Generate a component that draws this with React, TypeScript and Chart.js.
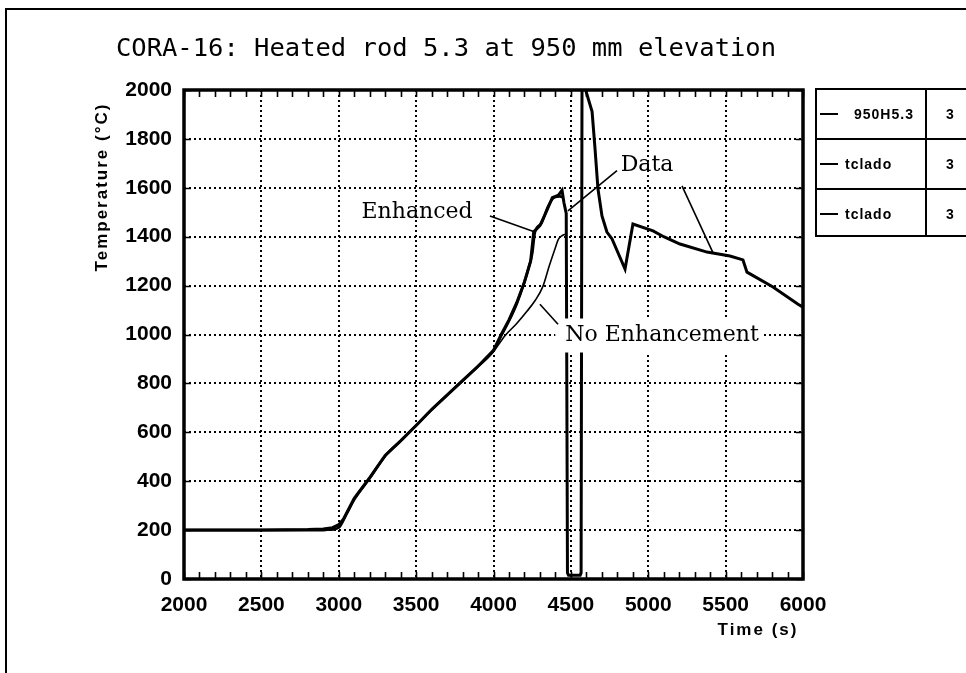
import React, { useEffect, useRef } from "react";
import { Chart, registerables } from "chart.js";

Chart.register(...registerables);

const TITLE = "CORA-16: Heated rod 5.3 at 950 mm elevation";
const X_TITLE = "Time (s)";
const Y_TITLE = "Temperature (°C)";

// Measured cladding temperature, thermocouple 950H5.3
const dataTime = [
  2000, 2500, 2800, 2900, 2960, 3000, 3030, 3100, 3200, 3300, 3400, 3500, 3600, 3700, 3800, 3900,
  4000, 4050, 4100, 4150, 4200, 4240, 4260, 4300, 4340, 4380, 4420, 4443, 4455, 4470, 4478, 4485,
  4560, 4566, 4572, 4592, 4600, 4637, 4656, 4675, 4701, 4733, 4766, 4850, 4901, 5031, 5100, 5205,
  5380, 5528, 5612, 5638, 5806, 5968, 6000,
];
const dataTemp = [
  200, 200, 202, 205, 210, 222, 245, 330, 415, 505, 565, 628, 693, 752, 811, 870,
  935, 1000, 1060, 1130, 1215, 1300, 1420, 1445, 1500, 1560, 1570, 1590, 1540, 1495, 25, 15,
  15, 25, 2050, 2050, 1990, 1912, 1760, 1596, 1485, 1419, 1391, 1268, 1452, 1424, 1400, 1370,
  1337, 1321, 1305, 1255, 1194, 1124, 1112,
];

// Calculated, enhanced oxidation
const enhTime = [
  2000, 2900, 2960, 3000, 3050, 3100, 3200, 3300, 3400, 3500, 3600, 3700, 3800, 3900, 4000, 4050,
  4100, 4150, 4200, 4230, 4250, 4268, 4310, 4350, 4390, 4430, 4450,
];
const enhTemp = [
  200, 200, 205, 210, 265, 325, 412, 503, 565, 628, 693, 752, 811, 870, 935, 995,
  1055, 1125, 1215, 1280, 1330, 1419, 1455, 1520, 1560, 1565, 1560,
];

// Calculated, no enhancement
const noEnhTime = [
  2000, 2950, 3000, 3050, 3100, 3200, 3300, 3400, 3500, 3600, 3700, 3800, 3900, 4000, 4074, 4150,
  4216, 4270, 4320, 4360, 4397, 4420, 4445, 4465,
];
const noEnhTemp = [
  200, 200, 212, 270, 328, 414, 504, 565, 628, 693, 752, 811, 870, 930, 995, 1045,
  1095, 1140, 1198, 1280, 1350, 1390, 1405, 1410,
];

const legendNames = ["950H5.3", "tclado", "tclado"];
const legendCodes = ["3", "3", "3"];

// Curve labels with their leader lines, in axis units
const curveLabels = [
  { text: "Enhanced", t: 3506, v: 1506, leaders: [[3977, 1485, 4268, 1419]], box: false },
  { text: "Data", t: 4992, v: 1698, leaders: [[4798, 1670, 4481, 1506], [5218, 1608, 5418, 1335]], box: false },
  { text: "No Enhancement", t: 5089, v: 1000, leaders: [[4417, 1042, 4300, 1124]], box: true },
];

const pts = (xs: number[], ys: number[]) => xs.map((x, i) => ({ x, y: ys[i] }));

const decor = {
  id: "decor",
  afterDatasetsDraw(chart: any) {
    const { ctx, chartArea: a, scales } = chart;
    const x = scales.x;
    const y = scales.y;
    ctx.save();

    // inward tick marks on all four sides
    ctx.strokeStyle = "#000";
    ctx.lineWidth = 1.6;
    ctx.beginPath();
    for (let t = 2000; t <= 6000; t += 100) {
      const px = Math.round(x.getPixelForValue(t)) + 0.5;
      ctx.moveTo(px, a.bottom);
      ctx.lineTo(px, a.bottom - 7);
      ctx.moveTo(px, a.top);
      ctx.lineTo(px, a.top + 7);
    }
    for (let v = 0; v <= 2000; v += 200) {
      const py = Math.round(y.getPixelForValue(v)) + 0.5;
      ctx.moveTo(a.left, py);
      ctx.lineTo(a.left + 7, py);
      ctx.moveTo(a.right, py);
      ctx.lineTo(a.right - 7, py);
    }
    ctx.stroke();

    // plot frame
    ctx.lineWidth = 3.5;
    ctx.strokeRect(a.left, a.top, a.right - a.left, a.bottom - a.top);

    // curve labels
    ctx.font = "22px 'DejaVu Serif'";
    ctx.textBaseline = "middle";
    ctx.textAlign = "center";
    for (const lab of curveLabels) {
      const cx = x.getPixelForValue(lab.t);
      const cy = y.getPixelForValue(lab.v);
      const w = ctx.measureText(lab.text).width;
      if (lab.box) {
        ctx.fillStyle = "#fff";
        ctx.fillRect(cx - w / 2 - 10, cy - 16, w + 13, 34);
      }
      ctx.fillStyle = "#000";
      ctx.fillText(lab.text, cx, cy + 1);
      ctx.lineWidth = 1.6;
      ctx.beginPath();
      for (const [t1, v1, t2, v2] of lab.leaders) {
        ctx.moveTo(x.getPixelForValue(t1), y.getPixelForValue(v1));
        ctx.lineTo(x.getPixelForValue(t2), y.getPixelForValue(v2));
      }
      ctx.stroke();
    }

    // axis titles
    ctx.fillStyle = "#000";
    ctx.font = "bold 17px 'Liberation Sans'";
    (ctx as any).letterSpacing = "2px";
    ctx.textAlign = "center";
    ctx.fillText(X_TITLE, 758, 630);
    ctx.translate(102, 187);
    ctx.rotate(-Math.PI / 2);
    ctx.fillText(Y_TITLE, 0, 0);
    ctx.restore();

    // figure title
    ctx.save();
    ctx.fillStyle = "#000";
    ctx.font = "25.5px 'DejaVu Sans Mono'";
    ctx.textAlign = "center";
    ctx.textBaseline = "alphabetic";
    ctx.fillText(TITLE, 446, 56);
    ctx.restore();
  },
};

export default function App() {
  const ref = useRef<HTMLCanvasElement>(null);

  useEffect(() => {
    const tickFont = { family: "'Liberation Sans'", size: 21, weight: "bold" as const };
    const plain = (v: number | string) => String(v);
    const chart = new Chart(ref.current!, {
      type: "line",
      data: {
        datasets: [
          {
            label: "No Enhancement",
            data: pts(noEnhTime, noEnhTemp),
            borderColor: "#000",
            borderWidth: 1.6,
            pointRadius: 0,
            cubicInterpolationMode: "monotone",
          },
          {
            label: "Enhanced",
            data: pts(enhTime, enhTemp),
            borderColor: "#000",
            borderWidth: 2.6,
            pointRadius: 0,
            cubicInterpolationMode: "monotone",
          },
          {
            label: "950H5.3",
            data: pts(dataTime, dataTemp),
            borderColor: "#000",
            borderWidth: 3,
            pointRadius: 0,
          },
        ],
      },
      options: {
        responsive: false,
        animation: false,
        devicePixelRatio: 1,
        parsing: false,
        layout: { padding: { left: 0, top: 90, right: 163, bottom: 0 } },
        plugins: {
          legend: { display: false },
          tooltip: { enabled: false },
          title: { display: false },
        },
        scales: {
          x: {
            type: "linear",
            min: 2000,
            max: 6000,
            ticks: {
              stepSize: 500,
              padding: 14,
              color: "#000",
              font: tickFont,
              maxRotation: 0,
              autoSkip: false,
              callback: plain,
            },
            grid: { color: "#000", lineWidth: 2, drawTicks: false },
            border: { display: false, dash: [2, 3] },
            afterFit: (s: any) => {
              s.height = 94;
            },
          },
          y: {
            type: "linear",
            min: 0,
            max: 2000,
            ticks: { stepSize: 200, padding: 12, color: "#000", font: tickFont, callback: plain },
            grid: { color: "#000", lineWidth: 2, drawTicks: false },
            border: { display: false, dash: [2, 3] },
            afterFit: (s: any) => {
              s.width = 184;
            },
          },
        },
      },
      plugins: [decor],
    });
    return () => chart.destroy();
  }, []);

  const rowTop = [88, 138, 188];
  return (
    <div
      style={{
        position: "absolute",
        left: 0,
        top: 0,
        width: 966,
        height: 673,
        overflow: "hidden",
        background: "#fff",
      }}
    >
      <canvas ref={ref} width={966} height={673} style={{ position: "absolute", left: 0, top: 0 }} />
      {/* figure frame */}
      <div style={{ position: "absolute", left: 5, top: 8, width: 2, height: 665, background: "#000" }} />
      <div style={{ position: "absolute", left: 5, top: 8, width: 961, height: 2, background: "#000" }} />
      {/* legend table */}
      <div
        style={{
          position: "absolute",
          left: 815,
          top: 88,
          width: 170,
          height: 149,
          border: "2px solid #000",
          boxSizing: "border-box",
        }}
      />
      <div style={{ position: "absolute", left: 925, top: 88, width: 2, height: 149, background: "#000" }} />
      {rowTop.slice(1).map((t) => (
        <div key={t} style={{ position: "absolute", left: 815, top: t, width: 170, height: 2, background: "#000" }} />
      ))}
      {legendNames.map((name, i) => (
        <React.Fragment key={i}>
          <div
            style={{ position: "absolute", left: 820, top: rowTop[i] + 25, width: 18, height: 2, background: "#000" }}
          />
          <div
            style={{
              position: "absolute",
              left: i === 0 ? 854 : 845,
              top: rowTop[i] + 16,
              font: "bold 14px 'Liberation Sans'",
              letterSpacing: 1,
              lineHeight: "20px",
              color: "#000",
            }}
          >
            {name}
          </div>
          <div
            style={{
              position: "absolute",
              left: 946,
              top: rowTop[i] + 16,
              font: "bold 14px 'Liberation Sans'",
              lineHeight: "20px",
              color: "#000",
            }}
          >
            {legendCodes[i]}
          </div>
        </React.Fragment>
      ))}
    </div>
  );
}
